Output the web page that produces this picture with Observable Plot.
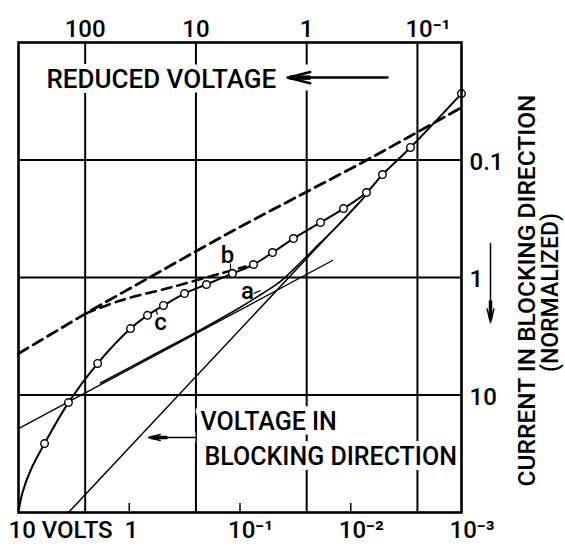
<!DOCTYPE html>
<html><head><meta charset="utf-8">
<script src="https://cdn.jsdelivr.net/npm/d3@7"></script>
<script src="https://cdn.jsdelivr.net/npm/@observablehq/plot@0.6"></script>
<style>
body{margin:0;background:#fff;}
#chart svg{display:block;}
</style></head><body><div id="chart"></div>
<script>
// ---- data (voltage in volts, current normalized) ----
// measured points (open circles)
const measV = [5.82, 3.54, 1.93, 0.974, 0.684, 0.491, 0.317, 0.201, 0.117, 0.0755, 0.0509, 0.0329, 0.01875, 0.01163, 0.00721, 0.00517, 0.00289, 0.001];
const measI = [25.9, 11.6, 5.39, 2.72, 2.10, 1.73, 1.37, 1.147, 0.925, 0.775, 0.613, 0.466, 0.340, 0.259, 0.189, 0.133, 0.0782, 0.0272];
// start of the measured curve (no circles)
const startV = [10, 9.20, 7.79];
const startI = [100, 67.6, 43.9];
// upper dashed curve
const dashV = [10, 6.33, 2.48, 0.556, 0.1145, 0.0284, 0.00816, 0.00289, 0.001];
const dashI = [4.44, 3.44, 2.03, 0.915, 0.398, 0.1986, 0.107, 0.0625, 0.0357];
// lower dashed curve b
const bV = [2.48, 1.20, 0.424, 0.150, 0.0892];
const bI = [2.03, 1.57, 1.216, 0.925, 0.806];
// curve a
const aV = [1.818, 0.643, 0.2419, 0.1054, 0.0626, 0.0431, 0.0284, 0.01875, 0.01238, 0.00691];
const aI = [7.91, 4.70, 2.88, 1.854, 1.368, 1.081, 0.745, 0.504, 0.344, 0.189];
// straight asymptotes
const l1V = [10, 0.01462];
const l1I = [19.3, 0.717];
const l2V = [3.54, 0.00691];
const l2I = [100, 0.189];
// axes
const kT = 0.025; // reduced voltage unit
const topTicks = [100, 10, 1, 0.1];
const topLabels = ["100", "10", "1", "10⁻¹"];
const bottomTicks = [10, 1, 0.1, 0.01, 0.001];
const bottomLabels = ["10 VOLTS", "1", "10⁻¹", "10⁻²", "10⁻³"];
const rightTicks = [0.1, 1, 10];
const rightLabels = ["0.1", "1", "10"];
// annotations
const curveLabels = ["a", "b", "c"];
const curveLabelV = [0.0855, 0.1297, 0.522];
const curveLabelI = [1.316, 0.650, 2.415];
const pointerV1 = [0.0755, 0.1219, 0.556];
const pointerV2 = [0.0653, 0.1219, 0.575];
const pointerI1 = [1.368, 0.760, 2.065];
const pointerI2 = [1.29, 0.855, 1.872];

const pts = (V, I) => V.map((v, i) => ({v, i: I[i]}));
const meas = pts(measV, measI);
const mainCurve = pts(startV, startI).concat(meas);
const FONT = "Roboto, Liberation Sans, Arial, sans-serif";
const pointers = pointerV1.map((v, j) => ({x1: v, x2: pointerV2[j], y1: pointerI1[j], y2: pointerI2[j]}));

const chart = Plot.plot({
  width: 565, height: 546,
  marginLeft: 18, marginRight: 104, marginTop: 42, marginBottom: 34,
  style: {fontFamily: FONT, background: "white", color: "black"},
  x: {type: "log", domain: [10, 0.001], axis: null},
  y: {type: "log", domain: [100, 0.01], axis: null},
  marks: [
    // grid
    Plot.ruleX(topTicks.map(t => t * kT), {stroke: "black", strokeWidth: 2}),
    Plot.ruleY(rightTicks, {stroke: "black", strokeWidth: 2}),
    Plot.ruleX([1, 0.1, 0.01], {stroke: "black", strokeWidth: 1.5, insetTop: 461}),
    // text with white halos (interrupt grid)
    Plot.link([0], {x1: () => 0.0372, x2: () => 0.00466, y1: () => 0.0199, y2: () => 0.0199, stroke: "white", strokeWidth: 26}),
    Plot.text(["REDUCED VOLTAGE"], {x: () => 5.59, y: () => 0.0206, text: d => d, textAnchor: "start", fontSize: 26, fontWeight: 500, fill: "black", stroke: "white", strokeWidth: 10}),
    Plot.text(["VOLTAGE IN"], {x: () => 0.2274, y: () => 16.98, text: d => d, textAnchor: "start", fontSize: 25, fontWeight: 500, fill: "black", stroke: "white", strokeWidth: 10}),
    Plot.text(["BLOCKING DIRECTION"], {x: () => 0.2092, y: () => 34.0, text: d => d, textAnchor: "start", fontSize: 25, fontWeight: 500, fill: "black", stroke: "white", strokeWidth: 10}),
    Plot.link([0], {x1: () => 0.2523, x2: () => 0.670, y1: () => 23.0, y2: () => 23.0, stroke: "white", strokeWidth: 10}),
    // arrows
    Plot.arrow([0], {x1: () => 0.00466, x2: () => 0.0372, y1: () => 0.0199, y2: () => 0.0199, stroke: "black", strokeWidth: 2.5, headLength: 14, headAngle: 28}),
    Plot.link([0], {x1: () => 0.0231, x2: () => 0.0357, y1: () => 0.0199, y2: () => 0.0199, stroke: "black", strokeWidth: 4.5}),
    Plot.arrow([0], {x1: () => 0.2523, x2: () => 0.670, y1: () => 23.0, y2: () => 23.0, stroke: "black", strokeWidth: 1.5, headLength: 12, headAngle: 28}),
    Plot.link([0], {x1: () => 0.4516, x2: () => 0.643, y1: () => 23.0, y2: () => 23.0, stroke: "black", strokeWidth: 3.5}),
    Plot.arrow([0], {x1: () => 0.000547, x2: () => 0.000547, y1: () => 0.514, y2: () => 2.415, stroke: "black", strokeWidth: 1.5, headLength: 14, headAngle: 28}),
    Plot.link([0], {x1: () => 0.000547, x2: () => 0.000547, y1: () => 1.569, y2: () => 2.277, stroke: "black", strokeWidth: 3.5}),
    // curves
    Plot.line(pts(dashV, dashI), {x: "v", y: "i", stroke: "black", strokeWidth: 2.8, strokeDasharray: "11,6", curve: "catmull-rom"}),
    Plot.line(pts(bV, bI), {x: "v", y: "i", stroke: "black", strokeWidth: 2.5, strokeDasharray: "10,6", curve: "catmull-rom"}),
    Plot.line(pts(l1V, l1I), {x: "v", y: "i", stroke: "black", strokeWidth: 1.3}),
    Plot.line(pts(l2V, l2I), {x: "v", y: "i", stroke: "black", strokeWidth: 1.5}),
    Plot.line(pts(aV, aI), {x: "v", y: "i", stroke: "black", strokeWidth: 1.6, curve: "catmull-rom"}),
    Plot.line(mainCurve, {x: "v", y: "i", stroke: "black", strokeWidth: 2, curve: "catmull-rom"}),
    Plot.dot(meas, {x: "v", y: "i", r: 3.8, fill: "white", stroke: "black", strokeWidth: 1.4}),
    // curve labels
    Plot.text(curveLabels, {x: (d, j) => curveLabelV[j], y: (d, j) => curveLabelI[j], text: d => d, fontSize: 24, fontWeight: 500, fill: "black"}),
    Plot.link(pointers, {x1: "x1", x2: "x2", y1: "y1", y2: "y2", stroke: "black", strokeWidth: 1.3}),
    // frame
    Plot.frame({stroke: "black", strokeWidth: 2.6}),
    // tick labels
    Plot.text(topTicks.slice(0, 3), {x: d => d * kT, text: (d, j) => topLabels[j], frameAnchor: "top", lineAnchor: "middle", dy: -13, fontSize: 24, fontWeight: 500, fill: "black"}),
    Plot.text(topTicks.slice(3), {x: d => d * kT, text: (d, j) => topLabels[3 + j], frameAnchor: "top", lineAnchor: "middle", dy: -13, dx: -12, textAnchor: "start", fontSize: 24, fontWeight: 500, fill: "black"}),
    Plot.text(bottomTicks.slice(0, 1), {x: d => d, text: (d, j) => bottomLabels[j], frameAnchor: "bottom", lineAnchor: "middle", dy: 18, dx: -10, textAnchor: "start", fontSize: 24, fontWeight: 500, fill: "black"}),
    Plot.text(bottomTicks.slice(1, 2), {x: d => d, text: (d, j) => bottomLabels[1 + j], frameAnchor: "bottom", lineAnchor: "middle", dy: 18, dx: 2, fontSize: 24, fontWeight: 500, fill: "black"}),
    Plot.text(bottomTicks.slice(2), {x: d => d, text: (d, j) => bottomLabels[2 + j], frameAnchor: "bottom", lineAnchor: "middle", dy: 18, dx: -12, textAnchor: "start", fontSize: 24, fontWeight: 500, fill: "black"}),
    Plot.text(rightTicks, {y: d => d, text: (d, j) => rightLabels[j], frameAnchor: "right", lineAnchor: "middle", dx: 8, dy: 2, textAnchor: "start", fontSize: 24, fontWeight: 500, fill: "black"}),
    // right title
    Plot.text(["CURRENT IN BLOCKING DIRECTION"], {text: d => d, frameAnchor: "right", textAnchor: "middle", lineAnchor: "middle", rotate: -90, dx: 66, dy: 13, fontSize: 24.5, fontWeight: 500, fill: "black"}),
    Plot.text(["(NORMALIZED)"], {text: d => d, frameAnchor: "right", textAnchor: "middle", lineAnchor: "middle", rotate: -90, dx: 89, dy: 15, fontSize: 23, fontWeight: 500, fill: "black"})
  ]
});
document.getElementById("chart").appendChild(chart);
</script></body></html>
